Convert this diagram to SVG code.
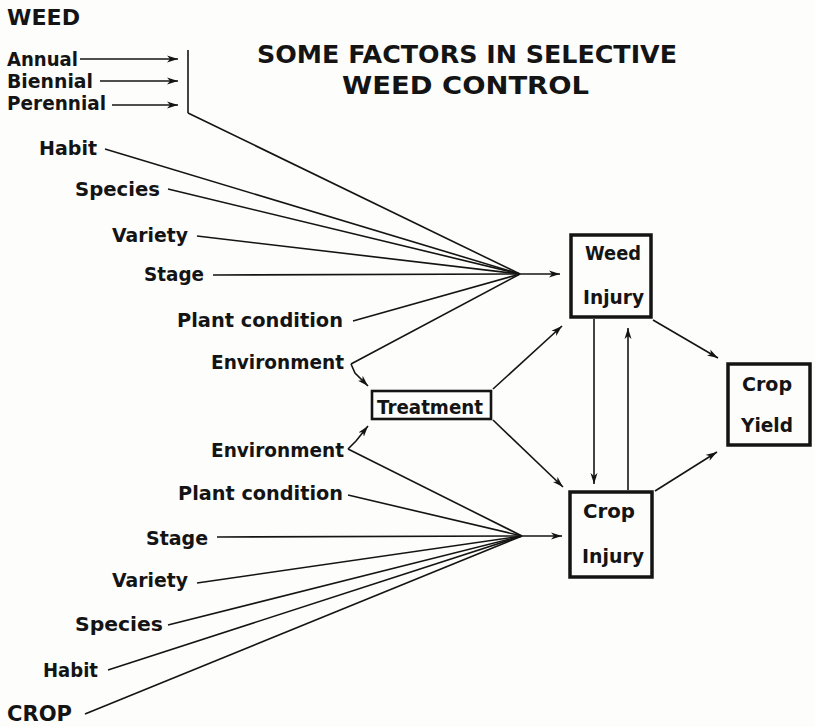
<svg xmlns="http://www.w3.org/2000/svg" width="815" height="727" viewBox="0 0 815 727">
<style>
  text { font-family: "DejaVu Sans", "Liberation Sans", sans-serif; font-weight: bold; fill: #141414; }
  .lbl { font-size: 19px; }
  .ttl { font-size: 24px; }
  .hdr { font-size: 21px; }
  .ln { stroke: #141414; stroke-width: 1.6; fill: none; }
  .arr { stroke: #141414; stroke-width: 1.6; fill: none; marker-end: url(#ah); }
  .box { stroke: #141414; stroke-width: 3.5; fill: none; }
  .tbox { stroke: #141414; stroke-width: 2.6; fill: none; }
</style>
<defs>
  <marker id="ah" markerUnits="userSpaceOnUse" markerWidth="12" markerHeight="8" refX="11" refY="4" orient="auto">
    <path d="M0,0.5 L11,4 L0,7.5 L3,4 z" fill="#141414"/>
  </marker>
</defs>
<rect x="0" y="0" width="815" height="727" fill="#fdfdfb"/>

<g id="title">
  <text class="ttl" x="257" y="63" textLength="420" lengthAdjust="spacingAndGlyphs">SOME FACTORS IN SELECTIVE</text>
  <text class="ttl" x="342" y="94" textLength="247" lengthAdjust="spacingAndGlyphs">WEED CONTROL</text>
</g>

<g id="weed-factors">
  <text class="hdr" x="7" y="25" textLength="73" lengthAdjust="spacingAndGlyphs">WEED</text>
  <text class="lbl" x="7" y="66" textLength="71" lengthAdjust="spacingAndGlyphs">Annual</text>
  <text class="lbl" x="7" y="88" textLength="86" lengthAdjust="spacingAndGlyphs">Biennial</text>
  <text class="lbl" x="7" y="110" textLength="99" lengthAdjust="spacingAndGlyphs">Perennial</text>
  <text class="lbl" x="39" y="155" textLength="58" lengthAdjust="spacingAndGlyphs">Habit</text>
  <text class="lbl" x="75" y="196" textLength="85" lengthAdjust="spacingAndGlyphs">Species</text>
  <text class="lbl" x="112" y="242" textLength="76" lengthAdjust="spacingAndGlyphs">Variety</text>
  <text class="lbl" x="144" y="281" textLength="60" lengthAdjust="spacingAndGlyphs">Stage</text>
  <text class="lbl" x="177" y="327" textLength="166" lengthAdjust="spacingAndGlyphs">Plant condition</text>
  <text class="lbl" x="211" y="369" textLength="133" lengthAdjust="spacingAndGlyphs">Environment</text>
</g>

<g id="crop-factors">
  <text class="lbl" x="211" y="457" textLength="133" lengthAdjust="spacingAndGlyphs">Environment</text>
  <text class="lbl" x="178" y="500" textLength="165" lengthAdjust="spacingAndGlyphs">Plant condition</text>
  <text class="lbl" x="146" y="545" textLength="62" lengthAdjust="spacingAndGlyphs">Stage</text>
  <text class="lbl" x="112" y="587" textLength="76" lengthAdjust="spacingAndGlyphs">Variety</text>
  <text class="lbl" x="75" y="631" textLength="88" lengthAdjust="spacingAndGlyphs">Species</text>
  <text class="lbl" x="43" y="677" textLength="55" lengthAdjust="spacingAndGlyphs">Habit</text>
  <text class="hdr" x="7" y="721" textLength="65" lengthAdjust="spacingAndGlyphs">CROP</text>
</g>

<g id="treatment">
  <rect class="tbox" x="372" y="391" width="119" height="28"/>
  <text class="lbl" x="377" y="414" textLength="106" lengthAdjust="spacingAndGlyphs">Treatment</text>
</g>

<g id="weed-injury">
  <rect class="box" x="571" y="235" width="80" height="82"/>
  <text class="lbl" x="585" y="260" textLength="56" lengthAdjust="spacingAndGlyphs">Weed</text>
  <text class="lbl" x="583" y="304" textLength="61" lengthAdjust="spacingAndGlyphs">Injury</text>
</g>

<g id="crop-injury">
  <rect class="box" x="570" y="492" width="82" height="85"/>
  <text class="lbl" x="583" y="518" textLength="52" lengthAdjust="spacingAndGlyphs">Crop</text>
  <text class="lbl" x="582" y="563" textLength="62" lengthAdjust="spacingAndGlyphs">Injury</text>
</g>

<g id="crop-yield">
  <rect class="box" x="728" y="364" width="82" height="81"/>
  <text class="lbl" x="742" y="391" textLength="50" lengthAdjust="spacingAndGlyphs">Crop</text>
  <text class="lbl" x="741" y="432" textLength="52" lengthAdjust="spacingAndGlyphs">Yield</text>
</g>

<g id="connectors">
  <!-- weed type arrows and bar -->
  <line class="arr" x1="80" y1="59" x2="178" y2="59"/>
  <line class="arr" x1="100" y1="81" x2="178" y2="81"/>
  <line class="arr" x1="112" y1="105" x2="178" y2="105"/>
  <line class="ln" x1="188" y1="50" x2="188" y2="113"/>
  <!-- upper fan -->
  <line class="ln" x1="188" y1="113" x2="520" y2="274"/>
  <line class="ln" x1="105" y1="149" x2="520" y2="274"/>
  <line class="ln" x1="168" y1="189" x2="520" y2="274"/>
  <line class="ln" x1="197" y1="236" x2="520" y2="274"/>
  <line class="ln" x1="213" y1="275" x2="520" y2="274"/>
  <line class="ln" x1="353" y1="321" x2="520" y2="274"/>
  <line class="ln" x1="351" y1="364" x2="520" y2="274"/>
  <line class="arr" x1="520" y1="274" x2="560" y2="274"/>
  <!-- environment to treatment -->
  <polyline class="arr" points="351,364 355,373 368,386"/>
  <polyline class="arr" points="348,449 356,441 368,426"/>
  <!-- lower fan -->
  <line class="ln" x1="348" y1="449" x2="522" y2="536"/>
  <line class="ln" x1="348" y1="495" x2="522" y2="536"/>
  <line class="ln" x1="217" y1="537" x2="522" y2="536"/>
  <line class="ln" x1="197" y1="583" x2="522" y2="536"/>
  <line class="ln" x1="168" y1="625" x2="522" y2="536"/>
  <line class="ln" x1="108" y1="670" x2="522" y2="536"/>
  <line class="ln" x1="85" y1="714" x2="522" y2="536"/>
  <line class="arr" x1="522" y1="536" x2="562" y2="536"/>
  <!-- treatment to injuries -->
  <line class="arr" x1="493" y1="389" x2="562" y2="326"/>
  <line class="arr" x1="493" y1="420" x2="563" y2="487"/>
  <!-- injuries to yield -->
  <line class="arr" x1="653" y1="320" x2="718" y2="358"/>
  <line class="arr" x1="655" y1="491" x2="717" y2="452"/>
  <!-- between injuries -->
  <line class="arr" x1="594" y1="319" x2="594" y2="484"/>
  <line class="arr" x1="628" y1="490" x2="628" y2="328"/>
</g>
</svg>
